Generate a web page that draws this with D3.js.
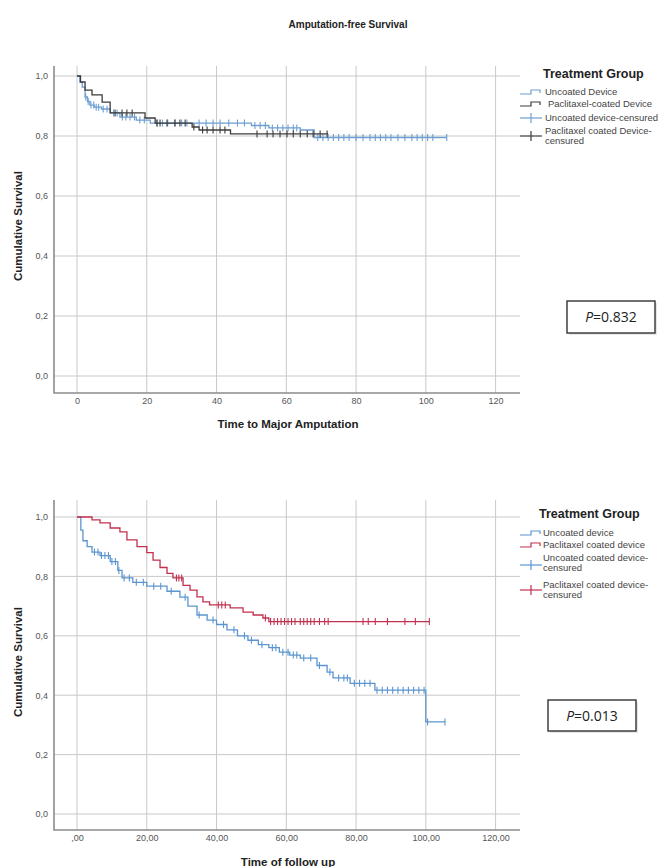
<!DOCTYPE html>
<html>
<head>
<meta charset="utf-8">
<script src="https://cdnjs.cloudflare.com/ajax/libs/d3/7.8.5/d3.min.js"></script>
<style>
  body { margin: 0; background: #fff; }
  text { font-family: "Liberation Sans", Arial, sans-serif; }
</style>
</head>
<body>
<div id="chart"></div>
<script>
var svgWidth = 668;
var svgHeight = 867;

// ================= data =============
var xTicks = [0, 20, 40, 60, 80, 100, 120];
var yTicks = [0, 0.2, 0.4, 0.6, 0.8, 1.0];

// top chart: amputation-free survival
var topUncoatedTimes = [0, 0.8, 1.5, 2.3, 3.0, 3.7, 5, 7, 9.5, 12.3, 17, 21, 50, 55, 64, 68];
var topUncoatedSurv = [1.0, 0.98, 0.963, 0.93, 0.915, 0.903, 0.896, 0.89, 0.877, 0.863, 0.853, 0.843, 0.835, 0.827, 0.82, 0.795];
var topUncoatedEnd = 106;
var topUncoatedCensor = [2.5, 3.2, 4, 4.8, 5.5, 6.2, 7.5, 8.6, 10.5, 11.5, 13, 14, 15.2, 16.5, 18, 19.3, 23, 24.5, 26, 28, 30, 31.5,
  35, 37, 39, 41, 43.5, 46, 48, 51, 52.5, 54, 56, 57.5, 59, 60.5, 62, 63, 69, 70.5, 72, 73.5, 75, 76.5, 78, 80, 82, 84, 85.5,
  87, 88.5, 90, 92, 94, 96, 97.5, 99, 100.5, 102, 106];

var topCoatedTimes = [0, 1, 2.3, 4.3, 7.2, 9.5, 19.5, 22.4, 33, 35, 44];
var topCoatedSurv = [1.0, 0.98, 0.953, 0.937, 0.913, 0.877, 0.86, 0.843, 0.83, 0.82, 0.807];
var topCoatedEnd = 72;
var topCoatedCensor = [10.9, 12.9, 14.3, 15.8, 22.9, 23.8, 25.8, 28.1, 29.5, 31, 33.5, 36, 37.3, 39, 41, 42.4,
  51.6, 54.5, 56.2, 58.2, 60.2, 62, 64, 66, 67.7, 69.7, 71.7];

// bottom chart: overall survival over follow up
var botUncoatedTimes = [0, 1.1, 1.7, 2.9, 4.3, 6.6, 9.5, 11.7, 12.9, 16, 20, 25.8, 29.5, 31.8, 34.4, 37.3, 40, 43, 46, 49,
  52, 55, 58, 61, 64, 68.8, 71.7, 73.4, 78.3, 85.4, 100];
var botUncoatedSurv = [1.0, 0.956, 0.92, 0.9, 0.882, 0.87, 0.85, 0.82, 0.795, 0.78, 0.767, 0.75, 0.73, 0.70, 0.67, 0.653,
  0.638, 0.62, 0.6, 0.585, 0.57, 0.56, 0.545, 0.535, 0.525, 0.50, 0.478, 0.458, 0.44, 0.417, 0.31];
var botUncoatedEnd = 105.5;
var botUncoatedCensor = [5, 6, 7, 8, 9, 10, 11, 12, 13.5, 15, 17, 19, 22, 24, 27, 31, 35, 39, 42, 45, 48, 50, 53, 56, 57,
  59, 60.5, 62, 63, 65, 67, 69.5, 72.5, 75, 76.5, 77.5, 79.5, 81, 82.5, 84, 86, 87.5, 89, 90.5, 92, 93.5, 95, 96.5, 98,
  99.5, 100.5, 105.5];

var botCoatedTimes = [0, 4.3, 6.6, 9.5, 12.3, 14.3, 17.2, 20, 21.8, 23.8, 25.8, 27.5, 30.4, 32.4, 34.4, 36.1, 38, 43.9,
  47.6, 50.5, 53.3, 55];
var botCoatedSurv = [1.0, 0.99, 0.98, 0.963, 0.95, 0.923, 0.9, 0.88, 0.855, 0.83, 0.81, 0.795, 0.77, 0.754, 0.731, 0.714,
  0.704, 0.694, 0.68, 0.67, 0.66, 0.648];
var botCoatedEnd = 101;
var botCoatedCensor = [28.5, 29.2, 30, 40.5, 41.5, 42.5, 54, 55.5, 56.5, 57.5, 58.5, 59.5, 60.5, 61.5, 62.5, 64, 65, 66,
  67, 68, 69.5, 71, 72, 82, 83.5, 85.5, 89, 94, 97, 101];

var svg = d3
  .select("#chart")
  .append("svg")
  .attr("width", svgWidth)
  .attr("height", svgHeight);

// survival value at time t (step function)
function survAt(times, surv, t) {
  var i = d3.bisectRight(times, t) - 1;
  return surv[Math.max(i, 0)];
}

function stepPoints(times, surv, end) {
  var pts = times.map((t, i) => [t, surv[i]]);
  pts.push([end, surv[surv.length - 1]]);
  return pts;
}

function legendStep(g, x, y, color) {
  g.append("path")
    .attr("d", `M${x},${y + 2}H${x + 11}V${y - 2}H${x + 20}V${y + 1}`)
    .attr("fill", "none")
    .attr("stroke", color)
    .attr("stroke-width", 1.2);
}

function legendCensor(g, x, y, color) {
  g.append("line").attr("x1", x).attr("x2", x + 22).attr("y1", y).attr("y2", y)
    .attr("stroke", color).attr("stroke-width", 1.2);
  g.append("line").attr("x1", x + 11).attr("x2", x + 11).attr("y1", y - 5).attr("y2", y + 5)
    .attr("stroke", color).attr("stroke-width", 1.2);
}

// ================= one Kaplan-Meier panel =============
function drawPanel(cfg) {
  var x = d3.scaleLinear().domain([-6.6, 127]).range([54, 520]);
  var y = d3.scaleLinear().domain([0, 1]).range([cfg.y0, cfg.y1]);
  var top = cfg.top, bottom = cfg.bottom;

  var g = svg.append("g");

  // grid
  g.append("g")
    .selectAll("line.h")
    .data(yTicks)
    .enter()
    .append("line")
    .attr("x1", 54).attr("x2", 520)
    .attr("y1", d => y(d)).attr("y2", d => y(d))
    .attr("stroke", "#c9c9c9").attr("stroke-width", 1);

  g.append("g")
    .selectAll("line.v")
    .data(xTicks)
    .enter()
    .append("line")
    .attr("x1", d => x(d)).attr("x2", d => x(d))
    .attr("y1", top).attr("y2", bottom)
    .attr("stroke", "#c9c9c9").attr("stroke-width", 1);

  // axes
  var leftAxis = d3.axisLeft(y).tickValues(yTicks).tickSize(0).tickPadding(6)
    .tickFormat(d => d3.format(".1f")(d).replace(".", ","));
  var bottomAxis = d3.axisBottom(x).tickValues(xTicks).tickSize(0).tickPadding(5)
    .tickFormat(cfg.xFormat);

  var yAx = g.append("g").attr("transform", "translate(54,0)").call(leftAxis);
  yAx.select(".domain").remove();
  yAx.selectAll("text").attr("font-size", 9).attr("fill", "#555")
    .attr("font-family", "Liberation Sans, Arial, sans-serif");

  var xAx = g.append("g").attr("transform", `translate(0,${bottom})`).call(bottomAxis);
  xAx.select(".domain").remove();
  xAx.selectAll("text").attr("font-size", 9).attr("fill", "#555")
    .attr("font-family", "Liberation Sans, Arial, sans-serif");

  g.append("path")
    .attr("d", `M54,${top}V${bottom}H520`)
    .attr("fill", "none")
    .attr("stroke", "#8c8c8c")
    .attr("stroke-width", 1.6);

  // curves
  var line = d3.line()
    .x(d => x(d[0]))
    .y(d => y(d[1]))
    .curve(d3.curveStepAfter);

  cfg.series.forEach(function(s) {
    g.append("path")
      .datum(stepPoints(s.times, s.surv, s.end))
      .attr("d", line)
      .attr("fill", "none")
      .attr("stroke", s.color)
      .attr("stroke-width", 1.3);

    g.append("g")
      .selectAll("line")
      .data(s.censor)
      .enter()
      .append("line")
      .attr("x1", d => x(d)).attr("x2", d => x(d))
      .attr("y1", d => y(survAt(s.times, s.surv, d)) - 3.5)
      .attr("y2", d => y(survAt(s.times, s.surv, d)) + 3.5)
      .attr("stroke", s.color)
      .attr("stroke-width", 1.1);
  });

  // axis titles
  g.append("text")
    .attr("transform", `translate(22,${cfg.yTitleY}) rotate(-90)`)
    .attr("text-anchor", "middle")
    .attr("font-size", 11.5)
    .attr("font-weight", "bold")
    .attr("fill", "#222")
    .text("Cumulative Survival");

  g.append("text")
    .attr("x", 288)
    .attr("y", cfg.xTitleY)
    .attr("text-anchor", "middle")
    .attr("font-size", 11.5)
    .attr("font-weight", "bold")
    .attr("fill", "#222")
    .text(cfg.xTitle);

  // legend
  var lg = g.append("g");
  lg.append("text")
    .attr("x", cfg.legendX).attr("y", cfg.legendY)
    .attr("font-size", 12.5).attr("font-weight", "bold").attr("fill", "#222")
    .text("Treatment Group");

  cfg.legend.forEach(function(item) {
    if (item.kind === "step") legendStep(lg, 520, item.sy, item.color);
    else legendCensor(lg, 520, item.sy, item.color);
    item.lines.forEach(function(t, i) {
      lg.append("text")
        .attr("x", item.tx).attr("y", item.ty + i * 10)
        .attr("font-size", 9.5).attr("fill", "#444")
        .text(t);
    });
  });

  // p value box
  var b = cfg.pBox;
  g.append("rect")
    .attr("x", b.x + 2).attr("y", b.y + 2).attr("width", b.w).attr("height", b.h)
    .attr("fill", "#e6e6e6");
  g.append("rect")
    .attr("x", b.x).attr("y", b.y).attr("width", b.w).attr("height", b.h)
    .attr("fill", "#fff").attr("stroke", "#333").attr("stroke-width", 1.4);
  var pt = g.append("text")
    .attr("x", b.x + b.w / 2).attr("y", b.y + b.h / 2 + 5)
    .attr("text-anchor", "middle")
    .attr("font-size", 14).attr("fill", "#222")
    .style("font-family", "Open Sans, Liberation Sans, sans-serif");
  pt.append("tspan").attr("font-style", "italic").text("P");
  pt.append("tspan").text("=" + cfg.pValue);
}

// title
svg.append("text")
  .attr("x", 348)
  .attr("y", 28)
  .attr("text-anchor", "middle")
  .attr("font-size", 10)
  .attr("font-weight", "bold")
  .attr("fill", "#222")
  .text("Amputation-free Survival");

var topBlue = "#6d9fd2", topBlack = "#3c3c3c";
var botBlue = "#5b95cf", botRed = "#c2304f";

drawPanel({
  y0: 376, y1: 76, top: 66, bottom: 393,
  xFormat: d => d3.format("d")(d),
  yTitleY: 226, xTitleY: 428,
  xTitle: "Time to Major Amputation",
  series: [
    { times: topUncoatedTimes, surv: topUncoatedSurv, end: topUncoatedEnd, censor: topUncoatedCensor, color: topBlue },
    { times: topCoatedTimes, surv: topCoatedSurv, end: topCoatedEnd, censor: topCoatedCensor, color: topBlack }
  ],
  legendX: 543, legendY: 78,
  legend: [
    { kind: "step", color: topBlue, sy: 92, tx: 545, ty: 95, lines: ["Uncoated Device"] },
    { kind: "step", color: topBlack, sy: 104, tx: 548, ty: 107, lines: ["Paclitaxel-coated Device"] },
    { kind: "censor", color: topBlue, sy: 118, tx: 545, ty: 121, lines: ["Uncoated device-censured"] },
    { kind: "censor", color: topBlack, sy: 136, tx: 545, ty: 134, lines: ["Paclitaxel coated Device-", "censured"] }
  ],
  pBox: { x: 567, y: 301, w: 88, h: 32 },
  pValue: "0.832"
});

drawPanel({
  y0: 814, y1: 517, top: 500, bottom: 830,
  xFormat: d => d === 0 ? ",00" : d3.format("d")(d) + ",00",
  yTitleY: 662, xTitleY: 866,
  xTitle: "Time of follow up",
  series: [
    { times: botUncoatedTimes, surv: botUncoatedSurv, end: botUncoatedEnd, censor: botUncoatedCensor, color: botBlue },
    { times: botCoatedTimes, surv: botCoatedSurv, end: botCoatedEnd, censor: botCoatedCensor, color: botRed }
  ],
  legendX: 539, legendY: 518,
  legend: [
    { kind: "step", color: botBlue, sy: 533, tx: 543, ty: 536, lines: ["Uncoated device"] },
    { kind: "step", color: botRed, sy: 545, tx: 543, ty: 548, lines: ["Paclitaxel coated device"] },
    { kind: "censor", color: botBlue, sy: 565, tx: 543, ty: 561, lines: ["Uncoated coated device-", "censured"] },
    { kind: "censor", color: botRed, sy: 590, tx: 543, ty: 588, lines: ["Paclitaxel coated device-", "censured"] }
  ],
  pBox: { x: 548, y: 700, w: 88, h: 31 },
  pValue: "0.013"
});
</script>
</body>
</html>
